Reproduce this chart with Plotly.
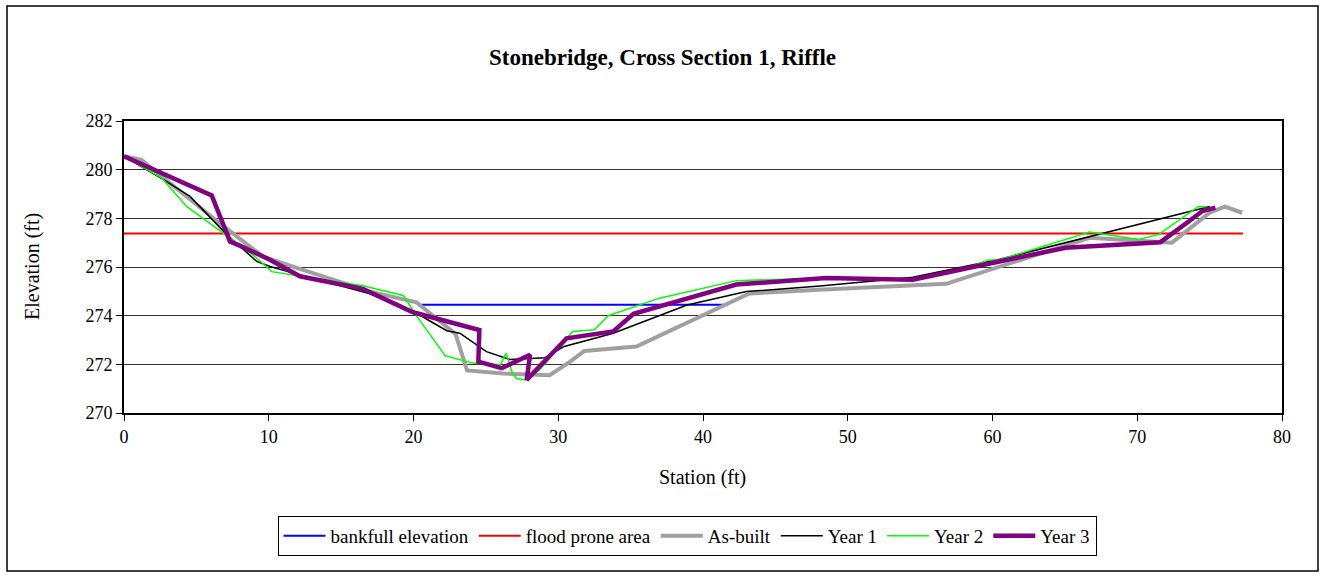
import plotly.graph_objects as go

# Survey data: station (ft) and elevation (ft) for each year
asbuilt_x = [0, 1.2, 6.6, 9.6, 12.2, 17.0, 20.2, 22.9, 23.7, 26.2, 29.4, 30.8, 31.8, 35.4, 43.2, 48.0,
             56.8, 66.7, 72.4, 75.0, 76.05, 77.25]
asbuilt_y = [280.55, 280.4, 277.8, 276.43, 275.91, 274.99, 274.55, 273.25, 271.75, 271.62, 271.55, 272.1, 272.55,
             272.73, 274.91, 275.07, 275.31, 277.2, 277.0, 278.23, 278.48, 278.23]

year1_x = [0, 2.7, 4.56, 7.1, 9.17, 10.1, 12.0, 17.0, 20.0, 22.3, 23.2, 25.04, 26.65, 28.7, 29.1, 30.35,
           33.8, 38.9, 43.0, 48.1, 54.5, 60.5, 74.6, 75.0]
year1_y = [280.55, 279.6, 278.9, 277.33, 276.23, 276.02, 275.7, 274.9, 274.17, 273.38, 273.28, 272.52, 272.2,
           272.24, 272.27, 272.72, 273.28, 274.44, 274.99, 275.22, 275.58, 276.32, 278.46, 278.49]

year2_x = [0, 2.6, 4.33, 6.86, 9.05, 10.2, 11.6, 16.5, 19.3, 20.2, 22.2, 24.1, 26.0, 26.4, 26.8, 27.1,
           27.7, 28.7, 31.0, 32.5, 33.45, 37.0, 42.3, 48.1, 54.5, 56.5, 58.4, 59.7, 60.5, 66.7, 70.1,
           71.5, 74.2, 74.8]
year2_y = [280.55, 279.66, 278.49, 277.4, 276.43, 275.81, 275.68, 275.23, 274.83, 274.0, 272.35, 272.05,
           271.98, 272.46, 271.7, 271.43, 271.36, 271.77, 273.35, 273.42, 274.0, 274.72, 275.44, 275.54,
           275.5, 275.75, 276.0, 276.28, 276.3, 277.44, 277.13, 277.34, 278.48, 278.48]

year3_x = [0, 6.06, 7.32, 8.0, 10.08, 12.15, 16.5, 19.97, 24.55, 24.48, 26.09, 28.05, 27.82, 30.58, 33.8,
           35.2, 42.3, 48.5, 54.5, 56.6, 58.4, 65.06, 71.6, 73.6, 74.5, 75.4]
year3_y = [280.55, 278.94, 277.05, 276.88, 276.3, 275.62, 275.1, 274.14, 273.41, 272.11, 271.84, 272.39,
           271.36, 273.07, 273.35, 274.08, 275.28, 275.55, 275.48, 275.76, 275.97, 276.79, 277.02, 277.89,
           278.3, 278.44]

bankfull_x = [20.4, 41.4]
bankfull_y = [274.45, 274.45]
flood_x = [0, 77.3]
flood_y = [277.38, 277.38]

FONT = "Liberation Serif"

fig = go.Figure()
fig.add_trace(go.Scatter(x=bankfull_x, y=bankfull_y, mode="lines", name="bankfull elevation",
                         line=dict(color="#0000FF", width=2)))
fig.add_trace(go.Scatter(x=flood_x, y=flood_y, mode="lines", name="flood prone area",
                         line=dict(color="#FF0000", width=2)))
fig.add_trace(go.Scatter(x=asbuilt_x, y=asbuilt_y, mode="lines", name="As-built",
                         line=dict(color="#A0A0A0", width=4)))
fig.add_trace(go.Scatter(x=year1_x, y=year1_y, mode="lines", name="Year 1",
                         line=dict(color="#000000", width=1.5)))
fig.add_trace(go.Scatter(x=year2_x, y=year2_y, mode="lines", name="Year 2",
                         line=dict(color="#00FF00", width=1.5)))
fig.add_trace(go.Scatter(x=year3_x, y=year3_y, mode="lines", name="Year 3",
                         line=dict(color="#800080", width=4.5)))

W, H = 1325, 578
L, R, T, B = 124, 1282, 121, 413
pw, ph = R - L, B - T


def px_x(v):
    return (v - L) / pw


def px_y(v):
    return (B - v) / ph


fig.update_layout(
    width=W, height=H,
    margin=dict(l=L, r=W - R, t=T, b=H - B),
    paper_bgcolor="white", plot_bgcolor="white",
    font=dict(family=FONT, size=18, color="black"),
    title=dict(text="<b>Stonebridge, Cross Section 1, Riffle</b>", x=0.5, xref="container",
               y=1 - 57 / H, yref="container", xanchor="center", yanchor="middle",
               font=dict(family=FONT, size=23, color="black")),
    showlegend=True,
    legend=dict(orientation="h", xref="container", yref="container", x=687 / W, xanchor="center",
                y=1 - 536 / H, yanchor="middle", bordercolor="black", borderwidth=1,
                font=dict(family=FONT, size=19, color="black"), bgcolor="white",
                itemwidth=42, tracegroupgap=0),
    xaxis=dict(range=[0, 80], dtick=10, tick0=0, showgrid=False, zeroline=False,
               showline=True, linecolor="black", linewidth=2, mirror=True,
               ticks="outside", ticklen=6, tickcolor="black", tickwidth=1,
               tickfont=dict(family=FONT, size=18)),
    yaxis=dict(range=[270, 282], dtick=2, tick0=270, showgrid=True, gridcolor="#333333", gridwidth=1,
               zeroline=False, showline=True, linecolor="black", linewidth=2, mirror=True,
               ticks="outside", ticklen=6, tickcolor="black", tickwidth=1,
               tickfont=dict(family=FONT, size=18)),
    annotations=[
        dict(text="Station (ft)", xref="paper", yref="paper", x=px_x(702), y=px_y(478),
             xanchor="center", yanchor="middle", showarrow=False, font=dict(family=FONT, size=20)),
        dict(text="Elevation (ft)", xref="paper", yref="paper", x=px_x(32), y=px_y(267),
             xanchor="center", yanchor="middle", showarrow=False, textangle=-90,
             font=dict(family=FONT, size=20)),
    ],
    shapes=[
        dict(type="rect", xref="paper", yref="paper", x0=px_x(7), x1=px_x(1318), y0=px_y(571), y1=px_y(6),
             line=dict(color="black", width=1.5), layer="below"),
    ],
)

fig.write_html("out.html")
